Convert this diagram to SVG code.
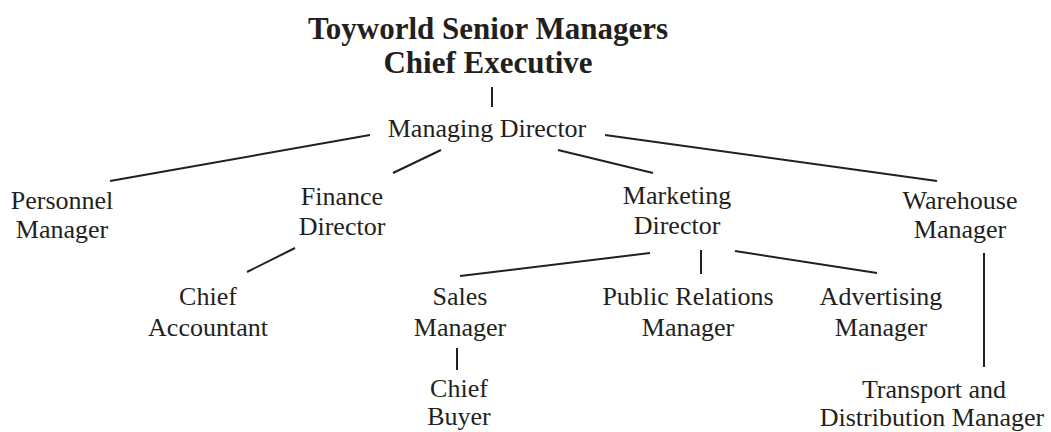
<svg xmlns="http://www.w3.org/2000/svg" width="1051" height="432" viewBox="0 0 1051 432">
<style>
text{font-family:"Liberation Serif","Times New Roman",serif;fill:#231f20;text-anchor:middle}
.t{font-size:31px;font-weight:bold}
.n{font-size:26px}
.c line{stroke:#231f20;stroke-width:2;stroke-linecap:butt}
</style>
<rect width="1051" height="432" fill="#fff"/>
<g id="title"><text class="t" x="488" y="39">Toyworld Senior Managers</text></g>
<g id="chief-executive"><text class="t" x="488" y="73">Chief Executive</text></g>
<g id="managing-director"><text class="n" x="487" y="137">Managing Director</text></g>
<g id="personnel-manager"><text class="n" x="62" y="209">Personnel</text><text class="n" x="62" y="238">Manager</text></g>
<g id="finance-director"><text class="n" x="342" y="205">Finance</text><text class="n" x="342" y="235">Director</text></g>
<g id="marketing-director"><text class="n" x="677" y="204">Marketing</text><text class="n" x="677" y="234">Director</text></g>
<g id="warehouse-manager"><text class="n" x="960" y="209">Warehouse</text><text class="n" x="960" y="238">Manager</text></g>
<g id="chief-accountant"><text class="n" x="208" y="305">Chief</text><text class="n" x="208" y="336">Accountant</text></g>
<g id="sales-manager"><text class="n" x="460" y="305">Sales</text><text class="n" x="460" y="336">Manager</text></g>
<g id="pr-manager"><text class="n" x="688" y="305">Public Relations</text><text class="n" x="688" y="336">Manager</text></g>
<g id="advertising-manager"><text class="n" x="881" y="305">Advertising</text><text class="n" x="881" y="336">Manager</text></g>
<g id="chief-buyer"><text class="n" x="459" y="397">Chief</text><text class="n" x="459" y="425">Buyer</text></g>
<g id="transport-manager"><text class="n" x="934" y="398">Transport and</text><text class="n" x="932" y="426">Distribution Manager</text></g>
<g id="connectors" class="c">
<line x1="492" y1="87" x2="492" y2="107"/>
<line x1="370" y1="135" x2="110" y2="181"/>
<line x1="441" y1="150" x2="393" y2="173"/>
<line x1="558" y1="150" x2="653" y2="173"/>
<line x1="605" y1="135" x2="937" y2="181"/>
<line x1="295" y1="248" x2="247" y2="272"/>
<line x1="650" y1="253" x2="460" y2="276"/>
<line x1="701" y1="250" x2="701" y2="274"/>
<line x1="735" y1="251" x2="877" y2="273"/>
<line x1="984" y1="253" x2="984" y2="367"/>
<line x1="457" y1="348" x2="457" y2="370"/>
</g>
</svg>
